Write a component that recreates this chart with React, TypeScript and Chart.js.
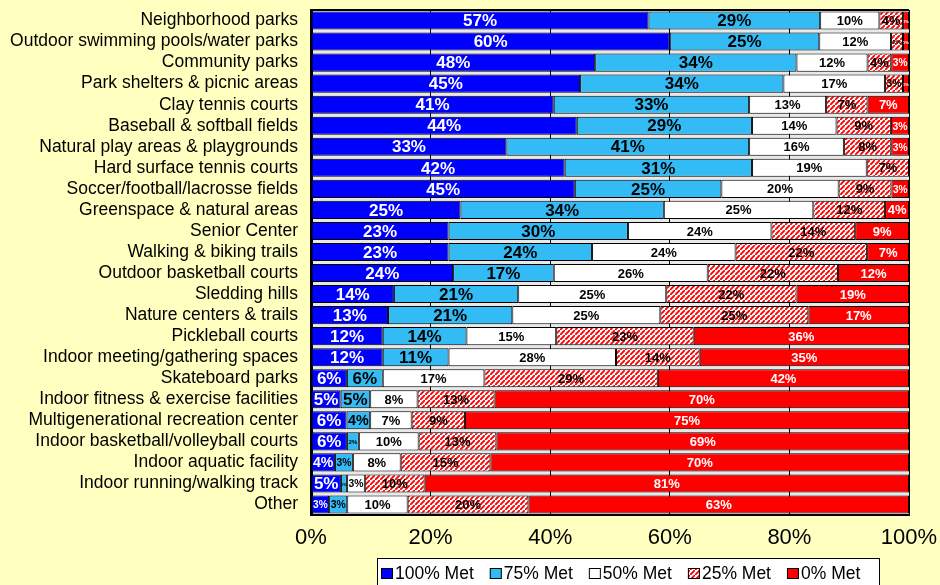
import React, { useEffect, useRef } from 'react';
import { Chart, registerables } from 'chart.js';

Chart.register(...registerables);

const categories = [
  'Neighborhood parks',
  'Outdoor swimming pools/water parks',
  'Community parks',
  'Park shelters & picnic areas',
  'Clay tennis courts',
  'Baseball & softball fields',
  'Natural play areas & playgrounds',
  'Hard surface tennis courts',
  'Soccer/football/lacrosse fields',
  'Greenspace & natural areas',
  'Senior Center',
  'Walking & biking trails',
  'Outdoor basketball courts',
  'Sledding hills',
  'Nature centers & trails',
  'Pickleball courts',
  'Indoor meeting/gathering spaces',
  'Skateboard parks',
  'Indoor fitness & exercise facilities',
  'Multigenerational recreation center',
  'Indoor basketball/volleyball courts',
  'Indoor aquatic facility',
  'Indoor running/walking track',
  'Other',
];

const met100 = [57, 60, 48, 45, 41, 44, 33, 42, 45, 25, 23, 23, 24, 14, 13, 12, 12, 6, 5, 6, 6, 4, 5, 3];
const met75 = [29, 25, 34, 34, 33, 29, 41, 31, 25, 34, 30, 24, 17, 21, 21, 14, 11, 6, 5, 4, 2, 3, 1, 3];
const met50 = [10, 12, 12, 17, 13, 14, 16, 19, 20, 25, 24, 24, 26, 25, 25, 15, 28, 17, 8, 7, 10, 8, 3, 10];
const met25 = [4, 2, 4, 3, 7, 9, 8, 7, 9, 12, 14, 22, 22, 22, 25, 23, 14, 29, 13, 9, 13, 15, 10, 20];
const met0 = [1, 1, 3, 1, 7, 3, 3, 0, 3, 4, 9, 7, 12, 19, 17, 36, 35, 42, 70, 75, 69, 70, 81, 63];

const seriesNames = ['100% Met', '75% Met', '50% Met', '25% Met', '0% Met'];
const xTickValues = [0, 20, 40, 60, 80, 100];

const FONT = '"Liberation Sans", Arial, sans-serif';
const BG = '#FFFFC0';
const DARK_BLUE = '#0000FF';
const LIGHT_BLUE = '#33BBF5';
const RED = '#FF0000';

function makeHatch(): CanvasPattern | string {
  const n = 5;
  const c = document.createElement('canvas');
  c.width = n;
  c.height = n;
  const g = c.getContext('2d');
  if (!g) return '#ff9999';
  g.fillStyle = '#ffffff';
  g.fillRect(0, 0, n, n);
  g.strokeStyle = RED;
  g.lineWidth = 1.9;
  g.beginPath();
  g.moveTo(-1, n + 1); g.lineTo(n + 1, -1);
  g.moveTo(-n - 1, 1); g.lineTo(1, -n - 1);
  g.moveTo(n - 1, 2 * n + 1); g.lineTo(2 * n + 1, n - 1);
  g.stroke();
  const p = g.createPattern(c, 'repeat');
  return p || '#ff9999';
}

export default function App() {
  const ref = useRef<HTMLCanvasElement | null>(null);

  useEffect(() => {
    const canvas = ref.current;
    if (!canvas) return;
    const hatch = makeHatch();
    const raw = [met100, met75, met50, met25, met0];
    const totals = categories.map((_, i) => raw.reduce((s, a) => s + a[i], 0));
    const norm = raw.map((arr) => arr.map((v, i) => (v / totals[i]) * 100));
    const fills: any[] = [DARK_BLUE, LIGHT_BLUE, '#FFFFFF', hatch, RED];
    const textColors = ['#FFFFFF', '#000000', '#000000', '#000000', '#FFFFFF'];
    const baseSizes = [17, 17, 13, 13, 13];

    const labelPlugin = {
      id: 'segLabels',
      afterDatasetsDraw(chart: any) {
        const ctx = chart.ctx;
        ctx.save();
        ctx.textAlign = 'center';
        ctx.textBaseline = 'middle';
        chart.data.datasets.forEach((ds: any, di: number) => {
          const meta = chart.getDatasetMeta(di);
          meta.data.forEach((bar: any, i: number) => {
            const v = raw[di][i];
            if (!v) return;
            const txt = v + '%';
            const w = Math.abs(bar.x - bar.base);
            let size = baseSizes[di];
            ctx.font = `bold ${size}px ${FONT}`;
            const tw = ctx.measureText(txt).width;
            const fit = w - 3;
            if (tw > fit) {
              size = Math.max(4, (size * fit) / tw);
              ctx.font = `bold ${size}px ${FONT}`;
            }
            ctx.fillStyle = textColors[di];
            ctx.fillText(txt, (bar.x + bar.base) / 2, bar.y + 1);
          });
        });
        ctx.restore();
      },
    };

    const framePlugin = {
      id: 'frameLegend',
      beforeDraw(chart: any) {
        const { ctx, chartArea } = chart;
        ctx.save();
        ctx.fillStyle = '#E8E8E8';
        ctx.fillRect(chartArea.left, chartArea.top, chartArea.right - chartArea.left, chartArea.bottom - chartArea.top);
        ctx.restore();
      },
      afterDraw(chart: any) {
        const { ctx, chartArea } = chart;
        ctx.save();
        ctx.strokeStyle = '#000';
        ctx.lineWidth = 2;
        ctx.beginPath();
        ctx.moveTo(chartArea.left - 1, chartArea.top);
        ctx.lineTo(chartArea.right, chartArea.top);
        ctx.stroke();

        // legend box
        const bx = 377, by = 558, bw = 502, bh = 32;
        ctx.fillStyle = '#FFFFFF';
        ctx.fillRect(bx, by, bw, bh);
        ctx.lineWidth = 1;
        ctx.strokeStyle = '#000';
        ctx.strokeRect(bx + 0.5, by + 0.5, bw, bh);
        ctx.font = `17.5px ${FONT}`;
        ctx.textBaseline = 'middle';
        ctx.textAlign = 'left';
        let x = 381;
        const cy = 574;
        seriesNames.forEach((name, i) => {
          ctx.fillStyle = fills[i];
          ctx.fillRect(x, cy - 6, 12, 11);
          ctx.strokeStyle = '#000';
          ctx.lineWidth = 1;
          ctx.strokeRect(x + 0.5, cy - 5.5, 11, 10);
          ctx.fillStyle = '#000';
          ctx.fillText(name, x + 14, cy);
          x += 14 + ctx.measureText(name).width + 16;
        });
        ctx.restore();
      },
    };

    const chart = new Chart(canvas, {
      type: 'bar',
      data: {
        labels: categories,
        datasets: seriesNames.map((name, di) => ({
          label: name,
          data: norm[di],
          backgroundColor: fills[di],
          borderColor: '#000000',
          borderWidth: 1,
          borderSkipped: false,
          barPercentage: 0.86,
          categoryPercentage: 1,
        })),
      },
      options: {
        indexAxis: 'y',
        responsive: false,
        animation: false,
        layout: { padding: { top: 10, right: 31, left: 0, bottom: 0 } },
        plugins: {
          legend: { display: false },
          tooltip: { enabled: false },
          title: { display: false },
        },
        scales: {
          x: {
            stacked: true,
            min: 0,
            max: 100,
            afterFit: (s: any) => { s.height = 70; s.paddingLeft = 0; s.paddingRight = 0; },
            afterBuildTicks: (s: any) => { s.ticks = xTickValues.map((v) => ({ value: v })); },
            ticks: {
              color: '#000',
              font: { family: FONT, size: 22 },
              padding: 10,
              callback: (v: any) => v + '%',
              maxRotation: 0,
            },
            grid: { color: '#000', lineWidth: 1, drawTicks: false },
            border: { display: true, color: '#000', width: 2 },
          },
          y: {
            stacked: true,
            afterFit: (s: any) => { s.width = 311; s.paddingTop = 0; s.paddingBottom = 0; },
            ticks: {
              color: '#000',
              font: { family: FONT, size: 17.5 },
              padding: 13,
              autoSkip: false,
            },
            grid: { display: false, drawTicks: false },
            border: { display: true, color: '#000', width: 3 },
          },
        },
      },
      plugins: [framePlugin, labelPlugin],
    } as any);

    return () => chart.destroy();
  }, []);

  return (
    <div style={{ position: 'fixed', left: 0, top: 0, width: 940, height: 585, background: BG }}>
      <canvas ref={ref} width={940} height={585} style={{ display: 'block' }} />
    </div>
  );
}
